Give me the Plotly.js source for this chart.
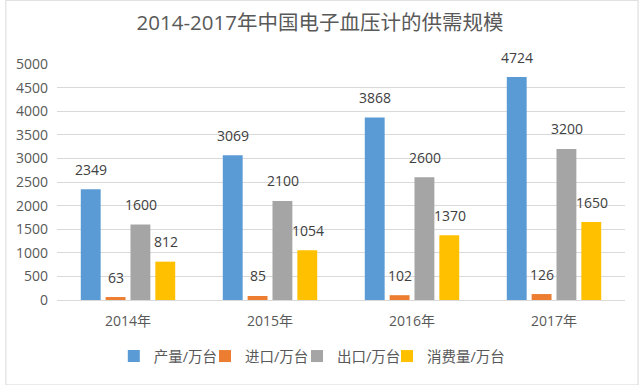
<!DOCTYPE html>
<html><head><meta charset="utf-8">
<script src="https://cdn.plot.ly/plotly-3.0.1.min.js"></script>
<style>html,body{margin:0;padding:0;background:#fff}#c{width:640px;height:385px}</style>
</head><body><div id="c"></div>
<script>
const years = ['2014年','2015年','2016年','2017年'];
const production = [2349, 3069, 3868, 4724];
const imports = [63, 85, 102, 126];
const exports = [1600, 2100, 2600, 3200];
const consumption = [812, 1054, 1370, 1650];
const seriesNames = ['产量/万台','进口/万台','出口/万台','消费量/万台'];
const colors = ['#5B9BD5','#ED7D31','#A5A5A5','#FFC000'];
const series = [production, imports, exports, consumption];
const font = '"Open Sans", "Noto Sans CJK SC", sans-serif';

const legendIds = ['legend','legend2','legend3','legend4'];
const legendX = [0.1, 0.2606, 0.4225, 0.581];
const traces = series.map((vals, i) => ({
  type: 'bar', x: years, y: vals, name: seriesNames[i],
  marker: {color: colors[i]}, hoverinfo: 'none', legend: legendIds[i]
}));

const shifts = [-37.5, -12.5, 12.5, 37.5];
const annotations = [];
series.forEach((vals, i) => {
  vals.forEach((v, j) => {
    annotations.push({x: years[j], y: v, xref: 'x', yref: 'y', text: String(v),
      showarrow: false, xshift: shifts[i], yshift: 20,
      font: {family: font, size: 14, color: '#404040'}});
  });
});

const layout = {
  width: 640, height: 385,
  margin: {l: 57, r: 15, t: 64, b: 85},
  paper_bgcolor: '#fff', plot_bgcolor: '#fff',
  title: {text: '2014-2017年中国电子血压计的供需规模', x: 0.5, xanchor: 'center', y: 0.94, yanchor: 'middle',
    font: {family: font, size: 20.5, color: '#595959'}},
  barmode: 'group', bargap: 0.3, bargroupgap: 0.2,
  xaxis: {tickfont: {family: font, size: 14, color: '#595959'}, showline: true, linecolor: '#D9D9D9', ticks: '',
    ticklabelstandoff: 8},
  yaxis: {range: [0, 5000], dtick: 500, tickfont: {family: font, size: 14, color: '#595959'},
    gridcolor: '#D9D9D9', zeroline: false, ticks: '', ticklen: 0, ticklabelstandoff: 8},
  annotations: annotations,
  shapes: [{type: 'rect', xref: 'paper', yref: 'paper', x0: -0.09, x1: 1.023, y0: -0.36, y1: 1.27,
    line: {color: '#D9D9D9', width: 1}}],
  showlegend: true
};
legendIds.forEach((id, i) => {
  layout[id] = {orientation: 'h', yanchor: 'top', y: -0.17, xanchor: 'left', x: legendX[i],
    font: {family: font, size: 14.5, color: '#595959'}, itemwidth: 30, bgcolor: 'rgba(0,0,0,0)'};
});
Plotly.newPlot('c', traces, layout, {displayModeBar: false, staticPlot: true});
</script></body></html>
